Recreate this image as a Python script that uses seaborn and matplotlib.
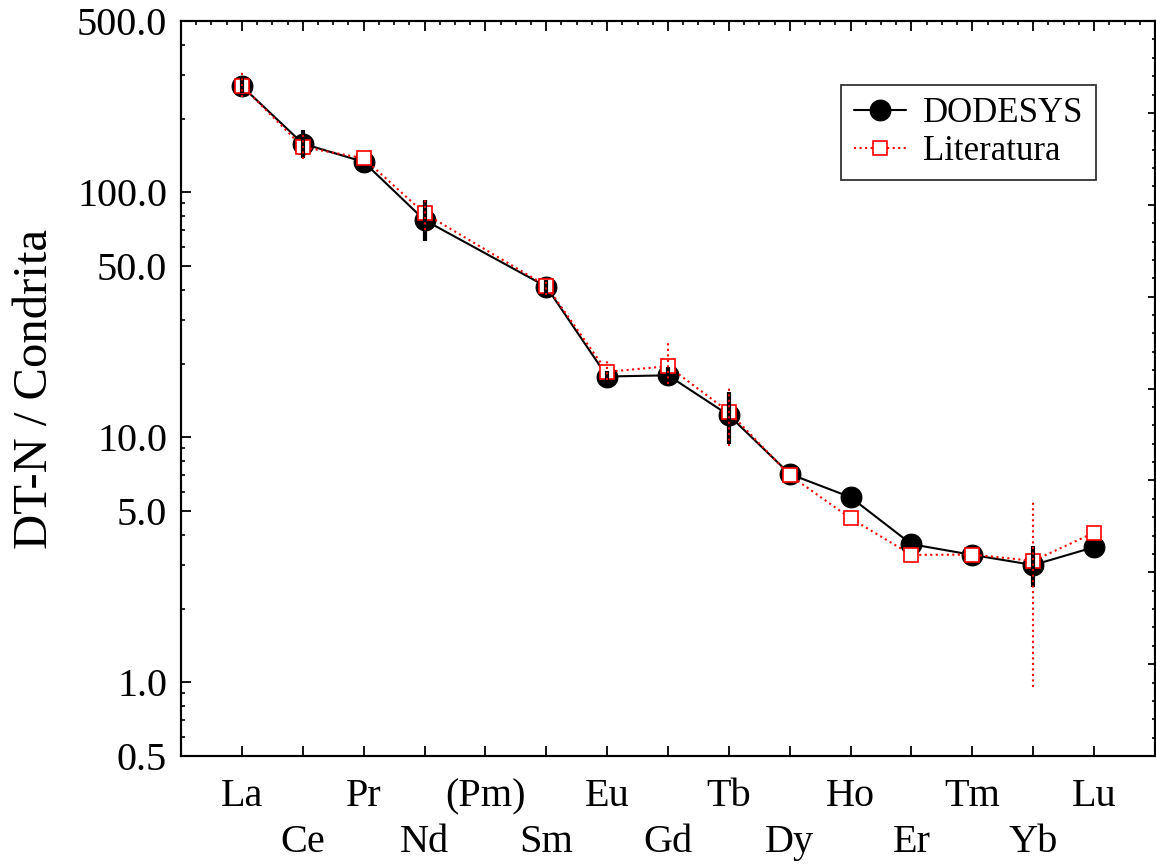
import matplotlib
matplotlib.use("Agg")
import matplotlib.pyplot as plt
import matplotlib.ticker as mticker
import numpy as np
import pandas as pd
import seaborn as sns

# REE names (chondrite-normalised pattern)
elements = ['La', 'Ce', 'Pr', 'Nd', '(Pm)', 'Sm', 'Eu', 'Gd', 'Tb', 'Dy',
            'Ho', 'Er', 'Tm', 'Yb', 'Lu']

# DODESYS values (nan = no data)
dodesys = [271, 158, 133, 77, np.nan, 41.2, 17.7, 17.9, 12.3, 7.08,
           5.69, 3.66, 3.31, 3.01, 3.56]
dodesys_lo = [254, 138, np.nan, 63, np.nan, 38.1, 16.9, 16.5, 9.4, np.nan,
              np.nan, np.nan, np.nan, 2.45, np.nan]
dodesys_hi = [296, 179, np.nan, 93, np.nan, 43.8, 18.6, 19.3, 15.3, np.nan,
              np.nan, np.nan, np.nan, 3.6, np.nan]

# Literatura values
literatura = [272, 153, 137.6, 82, np.nan, 41.5, 18.5, 19.5, 12.7, 7.0,
              4.67, 3.31, 3.32, 3.13, 4.08]
literatura_lo = [245, 137, np.nan, 70, np.nan, 38.1, 17.1, 16.5, 9.2, np.nan,
                 np.nan, np.nan, np.nan, 0.96, np.nan]
literatura_hi = [310, 177, np.nan, 96, np.nan, 44.0, 20.4, 24.3, 16.2, np.nan,
                 np.nan, np.nan, np.nan, 5.46, np.nan]

ytick_values = [0.5, 1.0, 5.0, 10.0, 50.0, 100.0, 500.0]

sns.set_style('ticks')
plt.rcParams['font.family'] = ['Liberation Serif', 'DejaVu Serif']
for key in ['text.color', 'axes.labelcolor', 'xtick.color', 'ytick.color',
            'axes.edgecolor']:
    plt.rcParams[key] = 'black'

pos = np.arange(len(elements))
df = pd.DataFrame({'pos': pos, 'elem': elements,
                   'dodesys': dodesys, 'literatura': literatura})
df_d = df.dropna(subset=['dodesys'])
df_l = df.dropna(subset=['literatura'])

fig = plt.figure(figsize=(11.56, 8.65), dpi=100)
ax = fig.add_axes([0.1566, 0.126, 0.8425, 0.8497])

sns.lineplot(data=df_d, x='pos', y='dodesys', sort=False, ax=ax,
             color='black', linewidth=1.5, marker='o', markersize=15,
             markeredgecolor='black', markerfacecolor='black',
             label='DODESYS', zorder=3)
sns.lineplot(data=df_l, x='pos', y='literatura', sort=False, ax=ax,
             color='red', linewidth=1.5, linestyle=':', marker='s',
             markersize=10, markeredgecolor='red', markerfacecolor='white',
             markeredgewidth=1.2, label='Literatura', zorder=4)

# error bars drawn over the markers
ax.vlines(pos, dodesys_lo, dodesys_hi, colors='black', linewidth=3, zorder=5)
ax.vlines(pos, literatura_lo, literatura_hi, colors='red', linewidth=1.5,
          linestyles=':', zorder=6)

ax.set_yscale('log')
ax.set_ylim(0.5, 500)
ax.set_xlim(-1, 15)
ax.yaxis.set_major_locator(mticker.FixedLocator(ytick_values))
ax.yaxis.set_major_formatter(mticker.FixedFormatter([f'{v:.1f}' for v in ytick_values]))
ax.yaxis.set_minor_locator(mticker.LogLocator(base=10, subs=(2, 3, 4, 6, 7, 8, 9)))
ax.yaxis.set_minor_formatter(mticker.NullFormatter())

ax.set_xticks(pos)
ax.set_xticklabels([e if i % 2 == 0 else '\n' + e for i, e in enumerate(elements)],
                   linespacing=1.3)
ax.xaxis.set_minor_locator(mticker.MultipleLocator(0.25))

ax.tick_params(axis='x', which='major', direction='in', length=7, width=1.3,
               top=True, bottom=True, labelsize=29, pad=16)
ax.tick_params(axis='x', which='minor', direction='in', length=3, width=1.2,
               top=True, bottom=False)
ax.tick_params(axis='y', which='major', direction='in', length=7, width=1.3,
               left=True, right=False, labelsize=29, pad=10)
ax.tick_params(axis='y', which='minor', direction='in', length=3, width=1.2,
               left=True, right=False)

ax.set_xlabel('')
ax.set_ylabel('DT-N / Condrita', fontsize=35, labelpad=14)

for side in ['left', 'right', 'top', 'bottom']:
    ax.spines[side].set_linewidth(1.5)
    ax.spines[side].set_color('black')

# right axis: evenly spaced ticks, no labels
ax_r = ax.twinx()
ax_r.set_ylim(0, 8)
ax_r.yaxis.set_major_locator(mticker.MultipleLocator(1))
ax_r.yaxis.set_minor_locator(mticker.MultipleLocator(0.2))
ax_r.tick_params(axis='y', which='major', direction='in', length=5, width=1.3,
                 labelright=False)
ax_r.tick_params(axis='y', which='minor', direction='in', length=2.5, width=1.2)
for side in ['left', 'right', 'top', 'bottom']:
    ax_r.spines[side].set_linewidth(1.5)
    ax_r.spines[side].set_color('black')

leg = ax.legend(loc='upper right', bbox_to_anchor=(0.939, 0.913), fontsize=25,
                frameon=True, fancybox=False, edgecolor='black',
                handlelength=1.5, handletextpad=0.5, borderpad=0.35,
                labelspacing=0.15, borderaxespad=0)
leg.get_frame().set_linewidth(1.3)

fig.savefig('out.png', dpi=100)
